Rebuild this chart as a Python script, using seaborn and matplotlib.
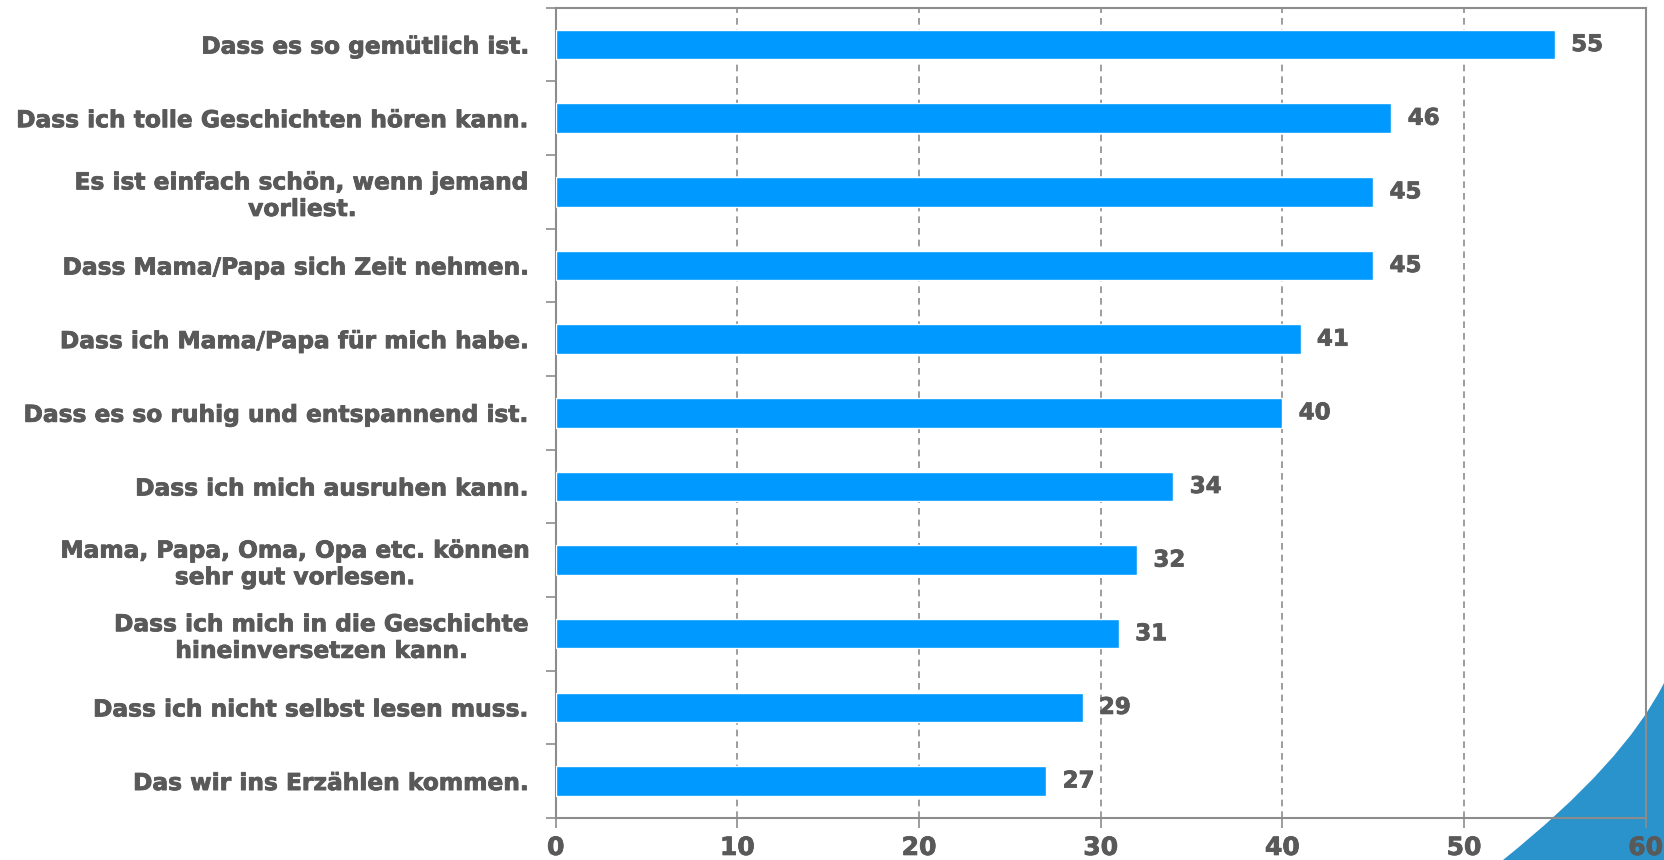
import matplotlib.pyplot as plt
import matplotlib.patheffects as pe
import pandas as pd
import seaborn as sns
from matplotlib.patches import PathPatch
from matplotlib.path import Path

categories = [
    "Dass es so gemütlich ist.",
    "Dass ich tolle Geschichten hören kann.",
    "Es ist einfach schön, wenn jemand\nvorliest.",
    "Dass Mama/Papa sich Zeit nehmen.",
    "Dass ich Mama/Papa für mich habe.",
    "Dass es so ruhig und entspannend ist.",
    "Dass ich mich ausruhen kann.",
    "Mama, Papa, Oma, Opa etc. können\nsehr gut vorlesen.",
    "Dass ich mich in die Geschichte\nhineinversetzen kann.",
    "Dass ich nicht selbst lesen muss.",
    "Das wir ins Erzählen kommen.",
]
values = [55, 46, 45, 45, 41, 40, 34, 32, 31, 29, 27]
x_ticks = [0, 10, 20, 30, 40, 50, 60]

BAR_COLOR = "#0099FF"
TEXT_COLOR = "#595959"
LINE_COLOR = "#8C8C8C"
heavy = [pe.withStroke(linewidth=0.6, foreground=TEXT_COLOR)]

df = pd.DataFrame({"label": categories, "value": values})

sns.set_theme(style="white")
plt.rcParams["font.family"] = ["DejaVu Sans"]

fig = plt.figure(figsize=(16.64, 8.6), dpi=100)

# decorative corner swoosh behind the axes
verts = [(1503 / 1664, 0.0), (1624 / 1664, 0.1128), (1.0, 0.2058),
         (1.0, 0.0), (1503 / 1664, 0.0)]
codes = [Path.MOVETO, Path.CURVE3, Path.CURVE3, Path.LINETO, Path.CLOSEPOLY]
fig.patches.append(PathPatch(Path(verts, codes), transform=fig.transFigure,
                             facecolor="#2B93CB", edgecolor="none", zorder=-5))

ax = fig.add_axes([0.334, 0.049, 0.655, 0.942])
ax.set_facecolor("none")
sns.barplot(data=df, y="label", x="value", orient="h", color=BAR_COLOR,
            width=0.4, saturation=1, ax=ax, zorder=3)

for i, v in enumerate(values):
    ax.text(v + 0.9, i, str(v), va="center", ha="left", fontsize=16.5,
            fontweight="bold", color=TEXT_COLOR, path_effects=heavy)

ax.set_xlim(0, 60)
ax.set_ylim(len(categories) - 0.5, -0.5)
ax.set_xticks(x_ticks)
ax.set_xticklabels([str(t) for t in x_ticks], fontsize=18, fontweight="bold",
                   color=TEXT_COLOR, path_effects=heavy)
ax.set_yticks(range(len(categories)))
ax.set_yticklabels(categories, fontsize=16.8, fontweight="bold",
                   color=TEXT_COLOR, ha="right", ma="center", path_effects=heavy)
ax.set_yticks([i - 0.5 for i in range(len(categories) + 1)], minor=True)
ax.tick_params(axis="y", which="major", length=0, pad=18)
ax.tick_params(axis="y", which="minor", length=7, width=1.2, color=LINE_COLOR,
               direction="out", left=True)
ax.tick_params(axis="x", length=7, width=1.2, color=LINE_COLOR, pad=6,
               direction="out", bottom=True)
ax.set_xlabel("")
ax.set_ylabel("")

ax.grid(axis="x", linestyle=(0, (4, 3)), color=LINE_COLOR, linewidth=1.2, zorder=0)
ax.set_axisbelow(True)

for side in ["left", "bottom", "right", "top"]:
    ax.spines[side].set_visible(True)
    ax.spines[side].set_color(LINE_COLOR)
    ax.spines[side].set_linewidth(1.5)

fig.savefig("out.png", dpi=100)
plt.close(fig)
